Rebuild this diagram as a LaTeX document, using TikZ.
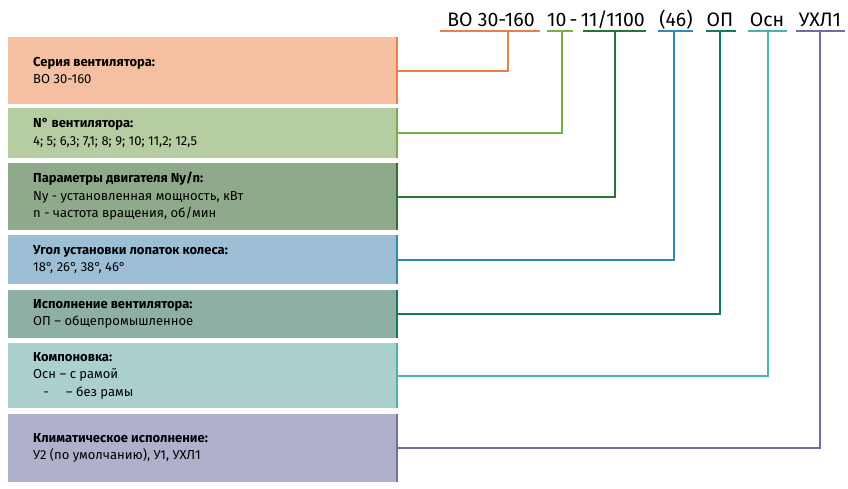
\documentclass[tikz,border=0pt]{standalone}
\usepackage{fontspec}
\setmainfont{Fira Sans}
\definecolor{cSer}{HTML}{EE7D4A}\definecolor{fSer}{HTML}{F4C0A1}
\definecolor{cNum}{HTML}{78AF48}\definecolor{fNum}{HTML}{B6CCA1}
\definecolor{cDvg}{HTML}{2E7434}\definecolor{fDvg}{HTML}{8FAA8A}
\definecolor{cUgl}{HTML}{2E8AB8}\definecolor{fUgl}{HTML}{9DBFD6}
\definecolor{cIsp}{HTML}{137A5C}\definecolor{fIsp}{HTML}{8EB0A2}
\definecolor{cKmp}{HTML}{4DB3A8}\definecolor{fKmp}{HTML}{ABD1CF}
\definecolor{cKlm}{HTML}{6E6EA6}\definecolor{fKlm}{HTML}{AFB1CC}
\tikzset{
  code/.style={font=\fontsize{19.5}{24}\selectfont,inner sep=0pt,anchor=base},
  info/.style={font=\fontsize{13}{17.5}\selectfont,align=left,anchor=west,inner sep=0pt},
  link/.style={line width=2pt}
}
\begin{document}
\begin{tikzpicture}[x=1pt,y=-1pt]
          \useasboundingbox (0,0) rectangle (848,488);
          \def\boxl{8}
          \def\boxr{397}
          \def\top{31}
          % header code
          \node[code] (tSer) at (491,26) {ВО 30-160};
          \node[code] (tNum) at (596,26) {10\,-\,11/1100};
          \node[code] (tUgl) at (676,26) {(46)};
          \node[code] (tIsp) at (720,26) {ОП};
          \node[code] (tKmp) at (767,26) {Осн};
          \node[code] (tKlm) at (820,26) {УХЛ1};
          % boxes, brackets, connectors
          \foreach \nm/\ya/\yb/\xa/\xb/\xc/\txt in {%
            Ser/37/104/440/540/508/{\textbf{Серия вентилятора:}\\ВО 30-160},
            Num/108/158/547/573/562/{\textbf{N° вентилятора:}\\4; 5; 6,3; 7,1; 8; 9; 10; 11,2; 12,5},
            Dvg/163/230/583/646/615/{\textbf{Параметры двигателя Ny/n:}\\Ny - установленная мощность, кВт\\n - частота вращения, об/мин},
            Ugl/235/284/658/693/674/{\textbf{Угол установки лопаток колеса:}\\18°, 26°, 38°, 46°},
            Isp/290/338/706/736/720/{\textbf{Исполнение вентилятора:}\\ОП – общепромышленное},
            Kmp/343/408/748/787/768/{\textbf{Компоновка:}\\Осн – с рамой\\\ \ \ -\ \ \ \ \ – без рамы},
            Klm/414/482/796/845/820/{\textbf{Климатическое исполнение:}\\У2 (по умолчанию), У1, УХЛ1}}{%
            \fill[f\nm] (\boxl,\ya) rectangle (\boxr,\yb);
            \draw[c\nm,line width=1.6pt] (\boxr,\ya) -- (\boxr,\yb);
            \node[info] (b\nm) at (33,{(\ya+\yb)/2}) {\txt};
            \coordinate (e\nm) at (\boxr,{(\ya+\yb)/2});
            \coordinate (k\nm) at (\xc,\top);
            \draw[c\nm,line width=2.4pt] (\xa,\top) -- (\xb,\top);
            \draw[c\nm,link] (e\nm) -| (k\nm);
          }
        \end{tikzpicture}
\end{document}
